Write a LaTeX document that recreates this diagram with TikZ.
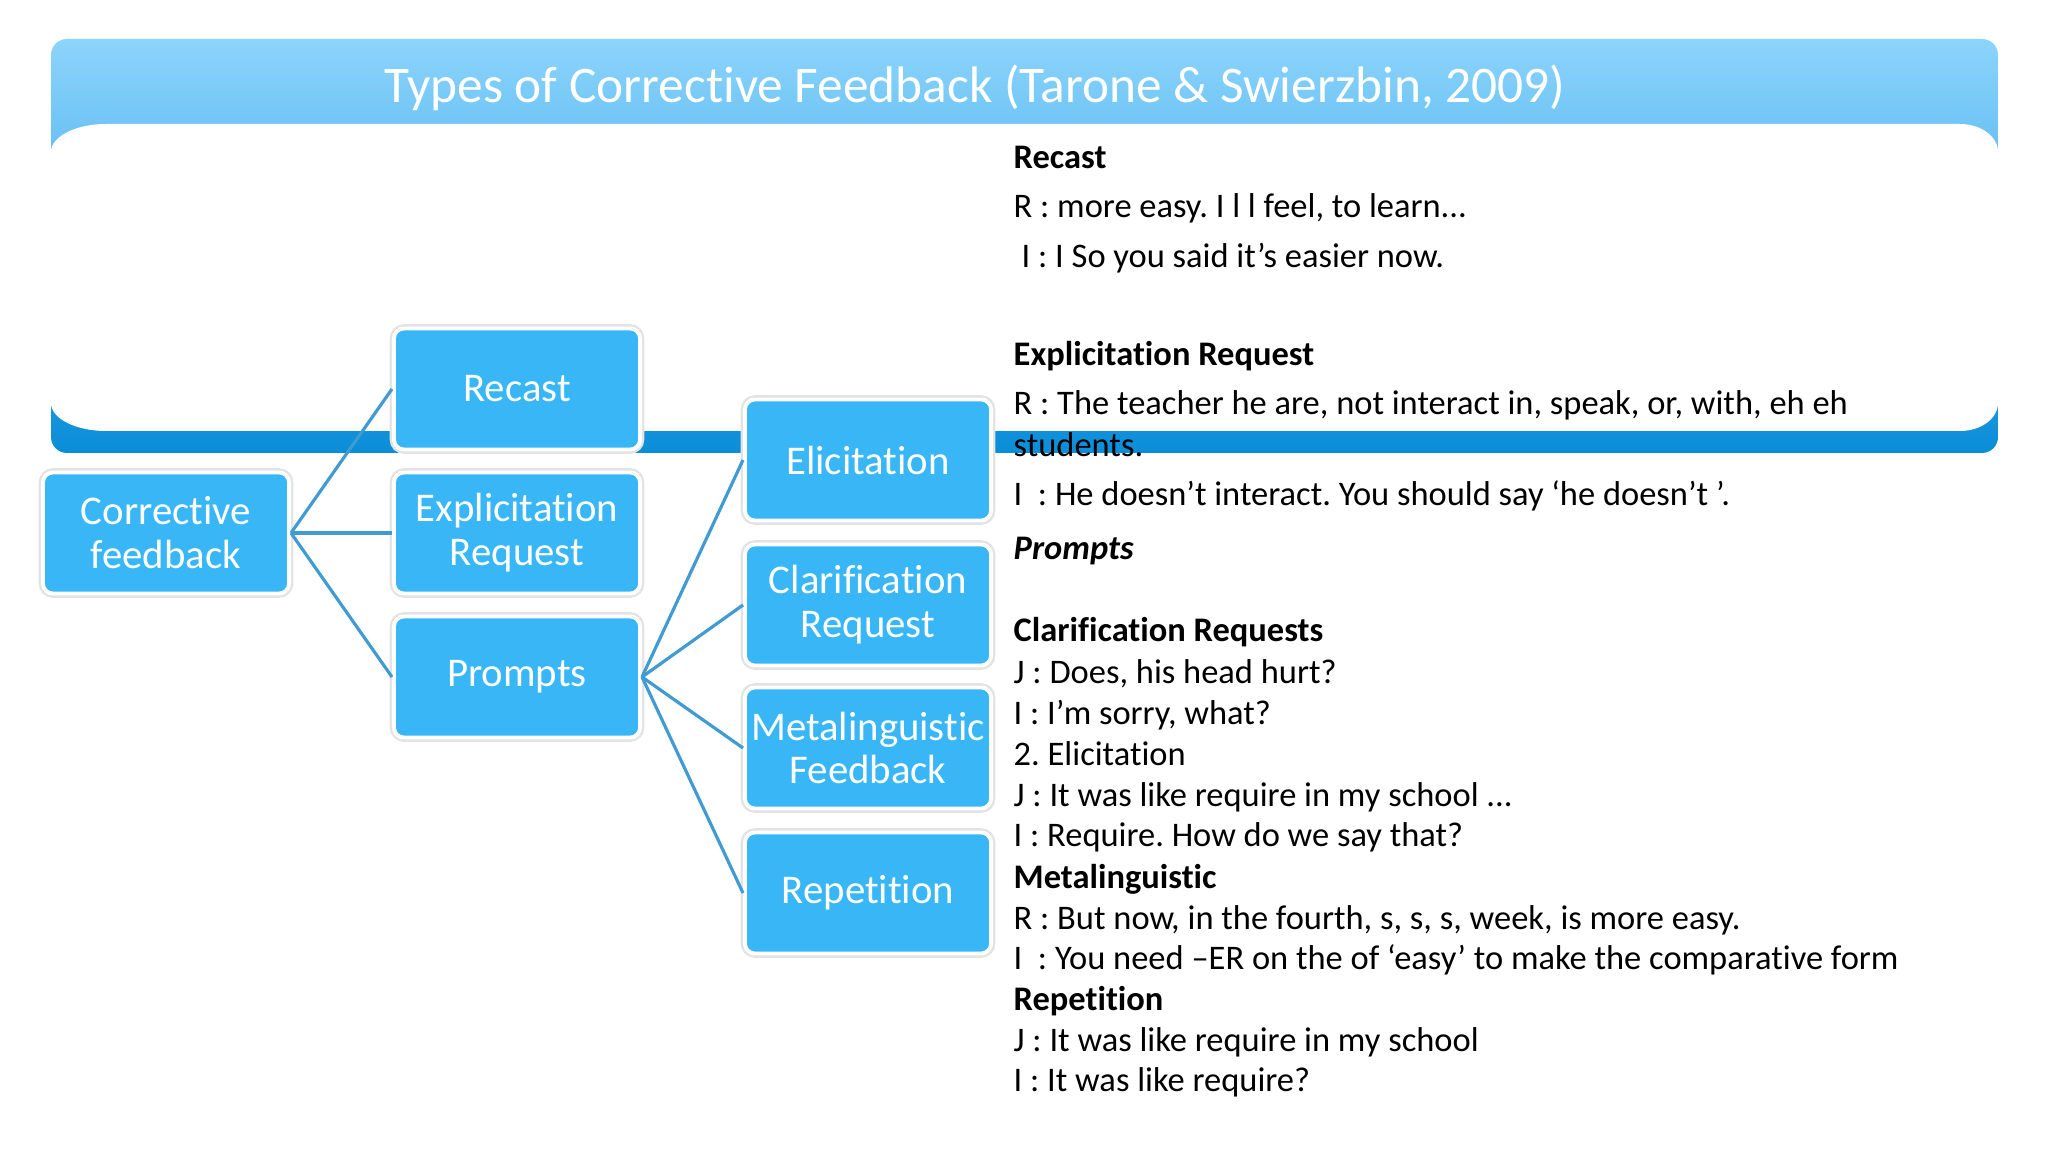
\documentclass[tikz,border=0pt]{standalone}
\usepackage{fontspec}
\setmainfont{Carlito}[Ligatures=NoCommon]
\frenchspacing
\definecolor{boxblue}{HTML}{38B6F6}
\definecolor{linkblue}{HTML}{3F9BD2}
\definecolor{hdrtop}{HTML}{8CD4FC}
\definecolor{hdrbot}{HTML}{0A8DD8}
\tikzset{
  cbox/.style={rectangle, rounded corners=0.1cm, fill=boxblue, draw=white, line width=1.1pt,
    preaction={draw=black!11, line width=2.4pt},
    minimum width=2.46cm, minimum height=1.21cm, inner sep=0pt, align=center,
    text=white, font=\fontsize{11.6}{12.5}\selectfont},
  link/.style={draw=linkblue, line width=0.9pt},
  txt/.style={anchor=base west, inner sep=0pt, font=\fontsize{9.8}{11.6}\selectfont, text=black},
  hd/.style={txt, font=\fontsize{9.8}{11.6}\selectfont\bfseries}
}
\begin{document}
\frenchspacing
\begin{tikzpicture}[x=0.01cm,y=0.01cm]
\useasboundingbox (0,0) rectangle (2048,-1152);
\fill[white] (0,0) rectangle (2048,-1152);
% header band
\shade[top color=hdrtop, bottom color=hdrbot, rounded corners=0.16cm] (51,-39) rectangle (1998,-453);
\fill[white] (106,-124) -- (1960,-124) arc[start angle=90, end angle=0, x radius=38, y radius=28]
  -- (1998,-403) arc[start angle=0, end angle=-90, x radius=38, y radius=28]
  -- (106,-431) arc[start angle=270, end angle=180, x radius=55, y radius=28]
  -- (51,-152) arc[start angle=180, end angle=90, x radius=55, y radius=28] -- cycle;
\node[text=white, font=\fontsize{14.6}{17}\selectfont] (title) at (975,-88) {Types of Corrective Feedback (Tarone \& Swierzbin, 2009)};
% boxes
\node[cbox] (cf) at (166,-533) {Corrective\\feedback};
\node[cbox] (rc) at (517,-389) {Recast};
\node[cbox] (er) at (517,-533) {Explicitation\\Request};
\node[cbox] (pr) at (517,-677) {Prompts};
\node[cbox] (el) at (868,-460) {Elicitation};
\node[cbox] (cr) at (868,-605) {Clarification\\Request};
\node[cbox] (mf) at (868,-748) {Metalinguistic\\Feedback};
\node[cbox] (rp) at (868,-893) {Repetition};
% connectors
\draw[link] (cf.east) -- (rc.west);
\draw[link] (cf.east) -- (er.west);
\draw[link] (cf.east) -- (pr.west);
\draw[link] (pr.east) -- (el.west);
\draw[link] (pr.east) -- (cr.west);
\draw[link] (pr.east) -- (mf.west);
\draw[link] (pr.east) -- (rp.west);
% right-hand text
\node[hd] (t1) at (1013,-169) {Recast};
\node[txt] (t2) at (1013,-218) {R : more easy. I l l feel, to learn...};
\node[txt] (t3) at (1021,-268) {I : I So you said it’s easier now.};
\node[hd] (t4) at (1013,-366) {Explicitation Request};
\node[txt] (t5) at (1013,-415) {R : The teacher he are, not interact in, speak, or, with, eh eh};
\node[txt] (t6) at (1013,-457) {students.};
\node[txt] (t7) at (1013,-505) {I\ \ : He doesn’t interact. You should say ‘he doesn’t ’.};
\node[hd, font=\fontsize{9.8}{11.6}\selectfont\bfseries\itshape] (t8) at (1013,-560) {Prompts};
\node[hd] (t9) at (1013,-642) {Clarification Requests};
\node[txt] (t10) at (1013,-683) {J : Does, his head hurt?};
\node[txt] (t11) at (1013,-724) {I : I’m sorry, what?};
\node[txt] (t12) at (1013,-765) {2. Elicitation};
\node[txt] (t13) at (1013,-806) {J : It was like require in my school ...};
\node[txt] (t14) at (1013,-846) {I : Require. How do we say that?};
\node[hd] (t15) at (1013,-888) {Metalinguistic};
\node[txt] (t16) at (1013,-929) {R : But now, in the fourth, s, s, s, week, is more easy.};
\node[txt] (t17) at (1013,-969) {I\ \ : You need –ER on the of ‘easy’ to make the comparative form};
\node[hd] (t18) at (1013,-1010) {Repetition};
\node[txt] (t19) at (1013,-1051) {J : It was like require in my school};
\node[txt] (t20) at (1013,-1091) {I : It was like require?};
\end{tikzpicture}
\end{document}
